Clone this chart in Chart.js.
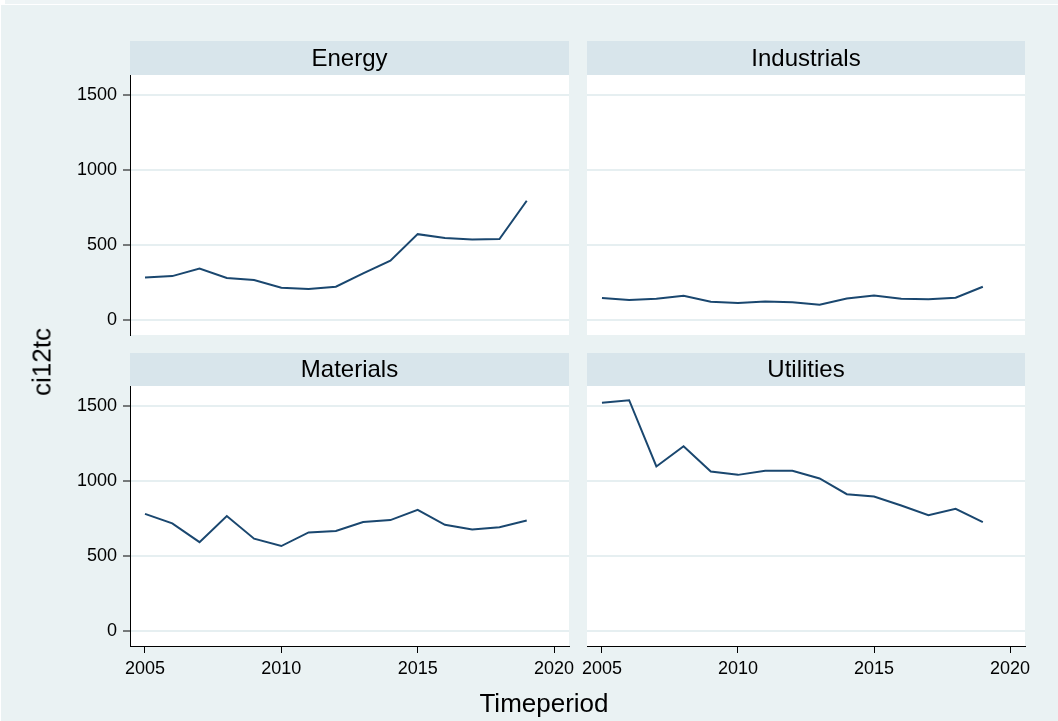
<!DOCTYPE html>
<html>
<head>
<meta charset="utf-8">
<script src="https://cdn.jsdelivr.net/npm/chart.js@4/dist/chart.umd.min.js"></script>
<style>
  html, body { margin:0; padding:0; background:#ffffff; }
  #wrap { position:relative; width:1058px; height:721px; overflow:hidden; background:#ffffff; }
  #bgTop { position:absolute; left:5px; top:0; width:1053px; height:4px; background:#eef4f5; }
  #bgMain { position:absolute; left:1px; top:5px; width:1057px; height:716px; background:#eaf2f3; }
  canvas { position:absolute; left:0; top:0; }
  .atitle { position:absolute; font-family:"Liberation Sans", Arial, sans-serif; font-size:26px; color:#000; white-space:nowrap; }
</style>
</head>
<body>
<div id="wrap">
  <div id="bgTop"></div>
  <div id="bgMain"></div>
  <canvas id="c0" width="1058" height="721"></canvas>
  <canvas id="c1" width="1058" height="721"></canvas>
  <canvas id="c2" width="1058" height="721"></canvas>
  <canvas id="c3" width="1058" height="721"></canvas>
  <div class="atitle" id="ytitle" style="left:42px; top:362px; transform:translate(-50%,-50%) rotate(-90deg);">ci12tc</div>
  <div class="atitle" id="xtitle" style="left:544px; top:703px; transform:translate(-50%,-50%);">Timeperiod</div>
</div>
<script>
const years = [2005,2006,2007,2008,2009,2010,2011,2012,2013,2014,2015,2016,2017,2018,2019];
const energy = [284,293,344,280,267,216,207,222,311,396,573,547,538,540,796];
const industrials = [147,133,142,162,122,113,124,118,102,144,164,142,138,149,222];
const materials = [782,718,593,767,616,567,658,667,727,740,809,709,678,693,738];
const utilities = [1524,1540,1098,1233,1064,1042,1069,1069,1018,913,898,838,773,816,727];
const panelTitles = ['Energy','Industrials','Materials','Utilities'];
const yTicks = [0,500,1000,1500];
const xTicks = [2005,2010,2015,2020];

const FONT = '"Liberation Sans", Arial, sans-serif';
const W = 1058, H = 721;
const series = [energy, industrials, materials, utilities];
const areas = [
  {l:130, t:75, r:569, b:335, hh:34, leftCol:true,  bottomRow:false},
  {l:587, t:75, r:1025, b:335, hh:34, leftCol:false, bottomRow:false},
  {l:130, t:386, r:569, b:646, hh:33, leftCol:true,  bottomRow:true},
  {l:587, t:386, r:1025, b:646, hh:33, leftCol:false, bottomRow:true}
];
const Y_AXIS_W = 54, X_AXIS_H = 34;

const panelPlugin = {
  id: 'panel',
  beforeDraw(chart, args, opts) {
    const ctx = chart.ctx, a = chart.chartArea;
    ctx.save();
    ctx.fillStyle = '#ffffff';
    ctx.fillRect(a.left, a.top, a.right - a.left, a.bottom - a.top);
    ctx.fillStyle = '#d8e5eb';
    ctx.fillRect(a.left, a.top - opts.hh, a.right - a.left, opts.hh);
    ctx.fillStyle = '#000000';
    ctx.font = '24px ' + FONT;
    ctx.textAlign = 'center';
    ctx.textBaseline = 'middle';
    ctx.fillText(opts.title, (a.left + a.right) / 2, a.top - opts.hh / 2 + 1);
    ctx.restore();
  }
};

series.forEach((vals, i) => {
  const A = areas[i];
  const pad = {
    left: A.leftCol ? A.l - Y_AXIS_W : A.l,
    top: A.t,
    right: W - A.r,
    bottom: A.bottomRow ? H - A.b - X_AXIS_H : H - A.b
  };
  new Chart(document.getElementById('c' + i), {
    type: 'line',
    data: {
      datasets: [{
        data: years.map((y, k) => ({x: y, y: vals[k]})),
        borderColor: '#1a476f',
        borderWidth: 2,
        pointRadius: 0,
        tension: 0,
        fill: false
      }]
    },
    options: {
      responsive: false,
      animation: false,
      events: [],
      layout: { padding: pad },
      plugins: {
        legend: { display: false },
        tooltip: { enabled: false },
        panel: { title: panelTitles[i], hh: A.hh }
      },
      scales: {
        x: {
          type: 'linear',
          min: 2004.45,
          max: 2020.55,
          display: A.bottomRow,
          afterBuildTicks: s => { s.ticks = xTicks.map(v => ({value: v})); },
          afterFit: s => { s.height = A.bottomRow ? X_AXIS_H : 0; },
          grid: { drawOnChartArea: false, drawTicks: true, tickLength: 7, tickColor: '#000', tickWidth: 1 },
          border: { display: true, color: '#000', width: 1 },
          ticks: { color: '#000', font: { family: FONT, size: 18 }, padding: 5, maxRotation: 0, autoSkip: false,
                   callback: v => String(v) }
        },
        y: {
          type: 'linear',
          min: -100,
          max: 1635,
          afterBuildTicks: s => { s.ticks = yTicks.map(v => ({value: v})); },
          afterFit: s => { s.width = A.leftCol ? Y_AXIS_W : 0; },
          grid: {
            drawOnChartArea: true,
            drawTicks: A.leftCol,
            tickLength: 7,
            tickColor: '#000',
            tickWidth: 1,
            color: '#e6eff1',
            lineWidth: 2
          },
          border: { display: A.leftCol, color: '#000', width: 1 },
          ticks: { display: A.leftCol, color: '#000', font: { family: FONT, size: 18 }, padding: 6,
                   callback: v => String(v) }
        }
      }
    },
    plugins: [panelPlugin]
  });
});
</script>
</body>
</html>
